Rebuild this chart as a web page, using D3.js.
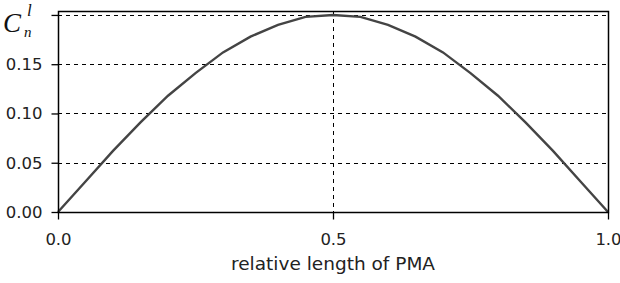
<!DOCTYPE html>
<html>
<head>
<meta charset="utf-8">
<script src="https://cdn.jsdelivr.net/npm/d3@7"></script>
<style>
  body { margin: 0; background: #fff; }
  svg { display: block; }
</style>
</head>
<body>
<div id="container"></div>
<script>
// values
const relLength = [0, 0.05, 0.10, 0.15, 0.20, 0.25, 0.30, 0.35, 0.40, 0.45, 0.50,
                   0.55, 0.60, 0.65, 0.70, 0.75, 0.80, 0.85, 0.90, 0.95, 1.0];
const cnValues  = [0, 0.031, 0.062, 0.091, 0.118, 0.141, 0.162, 0.178, 0.190, 0.198, 0.200,
                   0.198, 0.190, 0.178, 0.162, 0.141, 0.118, 0.091, 0.062, 0.031, 0];
const yTicks = [0, 0.05, 0.10, 0.15, 0.20];
const yTickLabels = ["0.00", "0.05", "0.10", "0.15", ""];  // top label is replaced by C_n^l
const xTicks = [0, 0.5, 1.0];
const xGrid = [0.5];
const xTitle = "relative length of PMA";

(function(){
    const width = 620, height = 283;
    const margin = {top: 11, right: 12, bottom: 71, left: 58};

    const x = d3.scaleLinear([0, 1], [margin.left, width - margin.right]);
    const y = d3.scaleLinear([0, 0.204], [height - margin.bottom, margin.top]);

    const svg = d3.select("#container").append("svg")
        .attr("width", width)
        .attr("height", height);

    // dashed grid
    const grid = svg.append("g")
        .attr("stroke", "#000")
        .attr("stroke-width", 1)
        .attr("stroke-dasharray", "4,4");
    grid.selectAll("line.h")
        .data(yTicks.filter(d => d > 0))
        .join("line")
        .attr("class", "h")
        .attr("x1", margin.left).attr("x2", width - margin.right)
        .attr("y1", d => Math.round(y(d)) + 0.5).attr("y2", d => Math.round(y(d)) + 0.5);
    grid.selectAll("line.v")
        .data(xGrid)
        .join("line")
        .attr("class", "v")
        .attr("x1", d => Math.round(x(d)) + 0.5).attr("x2", d => Math.round(x(d)) + 0.5)
        .attr("y1", margin.top).attr("y2", height - margin.bottom);

    // curve
    const line = d3.line()
        .x((d, i) => x(relLength[i]))
        .y(d => y(d));
    svg.append("path")
        .datum(cnValues)
        .attr("fill", "none")
        .attr("stroke", "#444")
        .attr("stroke-width", 2.4)
        .attr("d", line);

    // frame
    svg.append("rect")
        .attr("x", margin.left + 0.5)
        .attr("y", margin.top + 0.5)
        .attr("width", width - margin.left - margin.right)
        .attr("height", height - margin.top - margin.bottom)
        .attr("fill", "none")
        .attr("stroke", "#000")
        .attr("stroke-width", 1.5);

    const font = "'DejaVu Sans', Verdana, sans-serif";

    // y axis
    const yAxis = svg.append("g")
        .attr("transform", `translate(${margin.left + 0.5},0)`)
        .call(d3.axisLeft(y).tickValues(yTicks).tickFormat((d, i) => yTickLabels[i]).tickSize(7).tickPadding(9));
    yAxis.select(".domain").remove();
    yAxis.selectAll(".tick line").attr("stroke", "#000").attr("stroke-width", 1.3);
    yAxis.selectAll(".tick text")
        .style("font-family", font)
        .style("font-size", "16.5px")
        .attr("fill", "#222");

    // x axis
    const xAxis = svg.append("g")
        .attr("transform", `translate(0,${height - margin.bottom + 0.5})`)
        .call(d3.axisBottom(x).tickValues(xTicks).tickFormat(d3.format(".1f")).tickSize(7).tickPadding(14));
    xAxis.select(".domain").remove();
    xAxis.selectAll(".tick line").attr("stroke", "#000").attr("stroke-width", 1.3);
    xAxis.selectAll(".tick text")
        .style("font-family", font)
        .style("font-size", "16.5px")
        .attr("fill", "#222");

    // x title
    svg.append("text")
        .attr("x", x(0.5))
        .attr("y", 270)
        .attr("text-anchor", "middle")
        .style("font-family", font)
        .style("font-size", "18.5px")
        .attr("fill", "#222")
        .text(xTitle);

    // y label C_n^l
    const lab = svg.append("g")
        .style("font-family", "'Liberation Serif', 'Times New Roman', serif")
        .style("font-style", "italic")
        .attr("fill", "#111");
    lab.append("text").attr("x", 3).attr("y", 32).style("font-size", "27px").text("C");
    lab.append("text").attr("x", 24).attr("y", 37).style("font-size", "15px").text("n");
    lab.append("text").attr("x", 27).attr("y", 16).style("font-size", "17px").text("l");
})();
</script>
</body>
</html>
